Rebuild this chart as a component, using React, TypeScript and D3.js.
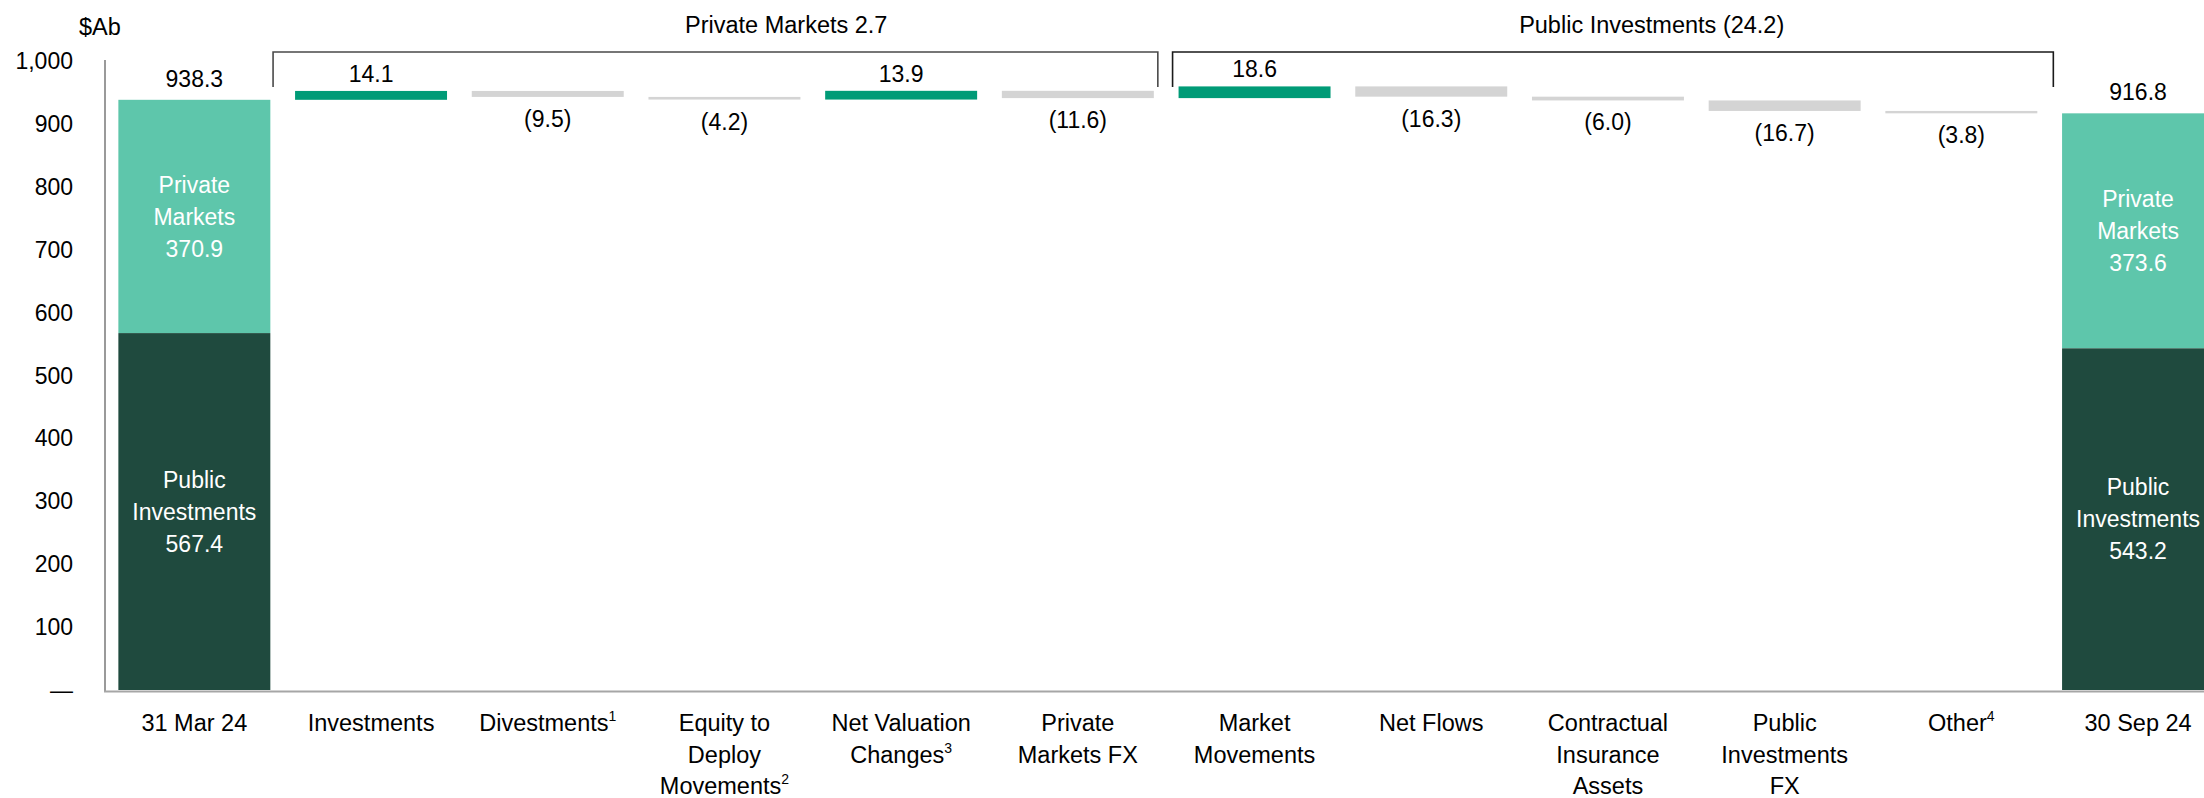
import React from "react";
import * as d3 from "d3";

// ---------- data ----------
const categoryLines: string[][] = [
  ["31 Mar 24"],
  ["Investments"],
  ["Divestments"],
  ["Equity to", "Deploy", "Movements"],
  ["Net Valuation", "Changes"],
  ["Private", "Markets FX"],
  ["Market", "Movements"],
  ["Net Flows"],
  ["Contractual", "Insurance", "Assets"],
  ["Public", "Investments", "FX"],
  ["Other"],
  ["30 Sep 24"],
];
const categorySuperscripts: string[] = ["", "", "1", "2", "3", "", "", "", "", "", "4", ""];

const startPrivate = 370.9;
const startPublic = 567.4;
const endPrivate = 373.6;
const endPublic = 543.2;

const changeValues: number[] = [14.1, -9.5, -4.2, 13.9, -11.6, 18.6, -16.3, -6.0, -16.7, -3.8];

const segmentNames: string[][] = [["Private", "Markets"], ["Public", "Investments"]];

const groupLabels: string[] = ["Private Markets 2.7", "Public Investments (24.2)"];
const groupFirst: number[] = [1, 6];
const groupLast: number[] = [5, 10];

const yTicks: number[] = [0, 100, 200, 300, 400, 500, 600, 700, 800, 900, 1000];
const unitLabel = "$Ab";

// ---------- style ----------
const W = 2204;
const H = 798;
const FONT = '"Liberation Sans", Arial, sans-serif';
const C_LIGHT = "#5EC6AB";
const C_DARK = "#1F4A3E";
const C_UP = "#009B77";
const C_DOWN = "#D4D4D4";

export default function App() {
  const x = d3
    .scaleBand<number>()
    .domain(d3.range(categoryLines.length))
    .range([106, 106 + 12 * 176.7])
    .paddingInner(0.14)
    .paddingOuter(0.07);
  const y = d3.scaleLinear().domain([0, 1000]).range([690, 61]);
  const bw = x.bandwidth();

  // waterfall steps
  let cum = startPrivate + startPublic;
  const steps = changeValues.map((v, i) => {
    const s = { idx: i + 1, from: cum, to: cum + v, v };
    cum += v;
    return s;
  });

  const fmtTick = (v: number) => (v === 0 ? "—" : d3.format(",")(v));
  const fmtChange = (v: number) => (v >= 0 ? d3.format(".1f")(v) : `(${d3.format(".1f")(-v)})`);

  const totals = [
    { idx: 0, priv: startPrivate, pub: startPublic },
    { idx: categoryLines.length - 1, priv: endPrivate, pub: endPublic },
  ];

  const bracketOffsets = [
    { l: -22, r: 4, lab: 0.58 },
    { l: -6, r: 16, lab: 0.544 },
  ];

  return (
    <svg
      width={W}
      height={H}
      style={{ position: "absolute", left: 0, top: 0, background: "#fff" }}
      fontFamily={FONT}
    >
      {/* unit label */}
      <text x={79} y={35} fontSize={23.5} fill="#000">
        {unitLabel}
      </text>

      {/* y tick labels */}
      {yTicks.map((t) => (
        <text key={t} x={73} y={y(t)} dy="0.35em" textAnchor="end" fontSize={23} fill="#000">
          {fmtTick(t)}
        </text>
      ))}

      {/* totals bars */}
      {totals.map((t) => {
        const x0 = x(t.idx)!;
        const top = y(t.priv + t.pub);
        const mid = y(t.pub);
        const bottom = y(0);
        const segs = [
          { y0: top, y1: mid, c: C_LIGHT, names: segmentNames[0], v: t.priv },
          { y0: mid, y1: bottom, c: C_DARK, names: segmentNames[1], v: t.pub },
        ];
        return (
          <g key={t.idx}>
            {segs.map((s, k) => {
              const cy = (s.y0 + s.y1) / 2;
              const lines = [...s.names, d3.format(".1f")(s.v)];
              return (
                <g key={k}>
                  <rect x={x0} y={s.y0} width={bw} height={s.y1 - s.y0} fill={s.c} />
                  {lines.map((ln, j) => (
                    <text
                      key={j}
                      x={x0 + bw / 2}
                      y={cy + (j - 1) * 32}
                      dy="0.35em"
                      textAnchor="middle"
                      fontSize={23}
                      fill="#fff"
                    >
                      {ln}
                    </text>
                  ))}
                </g>
              );
            })}
            <text x={x0 + bw / 2} y={top - 13} textAnchor="middle" fontSize={23} fill="#000">
              {d3.format(".1f")(t.priv + t.pub)}
            </text>
          </g>
        );
      })}

      {/* change bars */}
      {steps.map((s) => {
        const x0 = x(s.idx)!;
        const top = y(Math.max(s.from, s.to));
        const bot = y(Math.min(s.from, s.to));
        return (
          <g key={s.idx}>
            <rect x={x0} y={top} width={bw} height={Math.max(1.5, bot - top)} fill={s.v >= 0 ? C_UP : C_DOWN} />
            <text
              x={x0 + bw / 2}
              y={s.v >= 0 ? top - 9 : bot + 30}
              textAnchor="middle"
              fontSize={23}
              fill="#000"
            >
              {fmtChange(s.v)}
            </text>
          </g>
        );
      })}

      {/* group brackets */}
      {groupLabels.map((g, i) => {
        const l = x(groupFirst[i])! + bracketOffsets[i].l;
        const r = x(groupLast[i])! + bw + bracketOffsets[i].r;
        const yt = 52;
        const yb = 87;
        return (
          <g key={g}>
            <path
              d={`M${l},${yb}V${yt}H${r}V${yb}`}
              fill="none"
              stroke={i === 0 ? "#4a4a4a" : "#1a1a1a"}
              strokeWidth={1.6}
            />
            <text x={l + (r - l) * bracketOffsets[i].lab} y={33} textAnchor="middle" fontSize={23.5} fill="#000">
              {g}
            </text>
          </g>
        );
      })}

      {/* axes */}
      <line x1={105} x2={105} y1={60} y2={691} stroke="#9a9a9a" strokeWidth={2} />
      <line x1={104} x2={W} y1={691.5} y2={691.5} stroke="#a6a6a6" strokeWidth={2} />

      {/* category labels */}
      {categoryLines.map((lines, i) => {
        const cx = x(i)! + bw / 2;
        return (
          <g key={i}>
            {lines.map((ln, j) => (
              <text key={j} x={cx} y={731 + j * 31.5} textAnchor="middle" fontSize={23.5} fill="#000">
                {ln}
                {j === lines.length - 1 && categorySuperscripts[i] ? (
                  <tspan fontSize={14} dy={-10}>
                    {categorySuperscripts[i]}
                  </tspan>
                ) : null}
              </text>
            ))}
          </g>
        );
      })}
    </svg>
  );
}
